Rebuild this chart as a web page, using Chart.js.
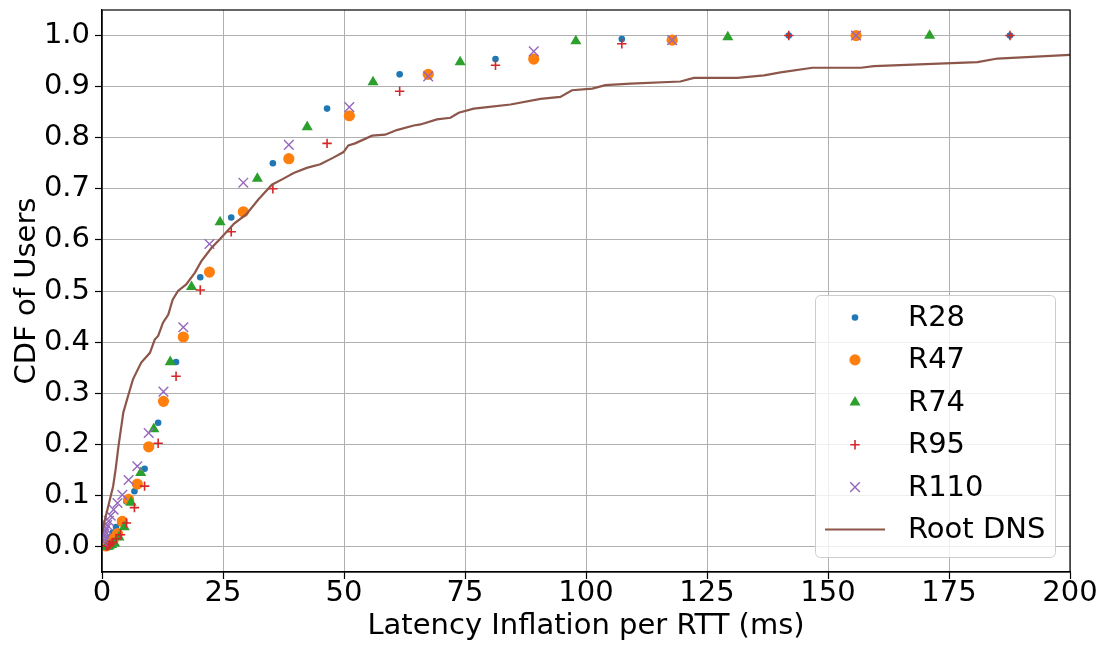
<!DOCTYPE html>
<html>
<head>
<meta charset="utf-8">
<script src="https://cdn.jsdelivr.net/npm/chart.js@4.4.1/dist/chart.umd.min.js"></script>
<style>
  html, body { margin: 0; padding: 0; background: #fff; }
  canvas { display: block; }
</style>
</head>
<body>
<canvas id="cdf" width="1102" height="646"></canvas>
<script>
// latency bins (ms) where each ring's CDF was sampled
const binsR28 = [0.95, 1.26, 1.66, 2.2, 2.9, 3.83, 5.05, 6.7, 8.8, 11.6, 15.3, 20.3, 26.7, 35.3, 46.5, 61.5, 81.3, 107.4, 141.9, 187.6];
const binsR47 = [0.8, 1.05, 1.4, 1.8, 2.4, 3.2, 4.2, 5.5, 7.3, 9.65, 12.7, 16.8, 22.2, 29.2, 38.6, 51.1, 67.4, 89.2, 117.8, 155.8];
const binsR74 = [0.9, 1.2, 1.5, 2.0, 2.6, 3.5, 4.6, 6.0, 8.0, 10.7, 14.1, 18.5, 24.4, 32.1, 42.4, 56.0, 74.0, 97.9, 129.3, 171.0];
const binsR95 = binsR28;
const binsR110 = [0.2, 0.26, 0.35, 0.46, 0.6, 0.8, 1.05, 1.4, 1.8, 2.4, 3.2, 4.2, 5.5, 7.3, 9.65, 12.7, 16.8, 22.2, 29.2, 38.6, 51.1, 67.4, 89.2, 117.8, 155.8];

// fraction of users at or below each bin
const cdfR28 = [0.005, 0.01, 0.018, 0.027, 0.038, 0.05, 0.088, 0.108, 0.152, 0.242, 0.361, 0.527, 0.644, 0.750, 0.857, 0.924, 0.954, 0.993, 1.0, 1.0];
const cdfR47 = [0.001, 0.002, 0.004, 0.008, 0.015, 0.025, 0.049, 0.092, 0.122, 0.195, 0.284, 0.410, 0.537, 0.655, 0.759, 0.843, 0.924, 0.954, 0.991, 1.0];
const cdfR74 = [0.0, 0.0, 0.001, 0.003, 0.006, 0.018, 0.038, 0.086, 0.144, 0.230, 0.361, 0.508, 0.635, 0.720, 0.821, 0.909, 0.948, 0.989, 0.997, 1.0];
const cdfR95 = [0.001, 0.002, 0.004, 0.008, 0.015, 0.023, 0.046, 0.076, 0.118, 0.202, 0.333, 0.502, 0.616, 0.700, 0.789, 0.891, 0.942, 0.984, 1.0, 1.0];
const cdfR110 = [0.01, 0.015, 0.02, 0.025, 0.03, 0.035, 0.042, 0.05, 0.06, 0.072, 0.085, 0.101, 0.130, 0.157, 0.222, 0.303, 0.429, 0.592, 0.712, 0.786, 0.860, 0.920, 0.969, 0.991, 1.0];

// root DNS latency inflation, empirical CDF
const rootLat = [0, 0.3, 1.3, 2.3, 2.8, 3.4, 3.7, 4.1, 4.4, 5.4, 6.4, 8.1, 9.9, 10.9, 11.6, 12.6, 13.7, 14.6, 15.7, 17.4,
  19.2, 20.5, 22.6, 24.2, 27.3, 29.8, 32.3, 35.1, 37.5, 39.6, 42.3, 45.1, 47.8, 49.9, 50.9, 52.3, 55.8, 58.5, 60.9, 64.4,
  65.8, 69.2, 72.0, 73.7, 76.8, 79.6, 84.4, 90.6, 94.7, 97.1, 101.3, 104.0, 109.2, 119.5, 122.3, 131.3, 136.8, 140.2, 146.8, 156.8,
  159.5, 180.9, 185.0, 200];
const rootCdf = [0.025, 0.04, 0.079, 0.118, 0.15, 0.196, 0.216, 0.242, 0.262, 0.295, 0.327, 0.36, 0.379, 0.405, 0.412, 0.438, 0.454, 0.483, 0.5, 0.513,
  0.536, 0.558, 0.584, 0.6, 0.632, 0.65, 0.679, 0.708, 0.72, 0.731, 0.741, 0.748, 0.761, 0.772, 0.785, 0.789, 0.804, 0.806, 0.815, 0.824,
  0.826, 0.836, 0.839, 0.849, 0.857, 0.860, 0.865, 0.876, 0.880, 0.893, 0.896, 0.903, 0.906, 0.910, 0.917, 0.917, 0.922, 0.928, 0.937, 0.937,
  0.940, 0.948, 0.955, 0.962];

const seriesNames = ['R28', 'R47', 'R74', 'R95', 'R110', 'Root DNS'];
const xTicks = [0, 25, 50, 75, 100, 125, 150, 175, 200];
const yTicks = [0.0, 0.1, 0.2, 0.3, 0.4, 0.5, 0.6, 0.7, 0.8, 0.9, 1.0];

const FONT = 'DejaVu Sans';
const FONT_SIZE = 29;

const pts = (xs, ys) => xs.map((x, i) => ({ x: x, y: ys[i] }));

const markerStyle = [
  { color: '#1f77b4', pointStyle: 'circle', radius: 3.3, borderWidth: 0 },
  { color: '#ff7f0e', pointStyle: 'circle', radius: 5.6, borderWidth: 0 },
  { color: '#2ca02c', pointStyle: 'triangle', radius: 6.4, borderWidth: 0 },
  { color: '#d62728', pointStyle: 'cross', radius: 4.7, borderWidth: 1.6 },
  { color: '#9467bd', pointStyle: 'crossRot', radius: 6.8, borderWidth: 1.4 }
];

const markerData = [
  pts(binsR28, cdfR28),
  pts(binsR47, cdfR47),
  pts(binsR74, cdfR74),
  pts(binsR95, cdfR95),
  pts(binsR110, cdfR110)
];

const datasets = markerData.map((d, i) => ({
  label: seriesNames[i],
  data: d,
  showLine: false,
  pointStyle: markerStyle[i].pointStyle,
  pointRadius: markerStyle[i].radius,
  pointBorderWidth: markerStyle[i].borderWidth,
  pointBackgroundColor: markerStyle[i].color,
  pointBorderColor: markerStyle[i].color,
  order: 10 - i
}));

datasets.push({
  label: seriesNames[5],
  data: pts(rootLat, rootCdf),
  showLine: true,
  borderColor: '#8c564b',
  borderWidth: 2.2,
  pointRadius: 0,
  tension: 0,
  order: 1
});

// black box around the axes plus a matplotlib-style key in the lower right
const frameAndKey = {
  id: 'frameAndKey',
  afterDraw(chart) {
    const ctx = chart.ctx;
    const a = chart.chartArea;
    ctx.save();
    ctx.strokeStyle = '#000';
    ctx.lineWidth = 1.2;
    ctx.strokeRect(a.left, a.top, a.right - a.left, a.bottom - a.top);

    const w = 240, h = 262;
    const bx = a.right - 15 - w, by = a.bottom - 15 - h;
    ctx.beginPath();
    ctx.roundRect(bx + 0.5, by + 0.5, w, h, 5);
    ctx.fillStyle = 'rgba(255,255,255,0.8)';
    ctx.fill();
    ctx.strokeStyle = '#cccccc';
    ctx.lineWidth = 1;
    ctx.stroke();

    const rowH = 42.4;
    const mx = bx + 40, tx = bx + 93;
    ctx.font = FONT_SIZE + 'px "' + FONT + '"';
    ctx.textBaseline = 'middle';
    ctx.textAlign = 'left';
    seriesNames.forEach((name, i) => {
      const y = by + 22.5 + i * rowH;
      if (i < markerStyle.length) {
        const m = markerStyle[i];
        ctx.fillStyle = m.color;
        ctx.strokeStyle = m.color;
        ctx.lineWidth = m.borderWidth;
        Chart.helpers.drawPoint(ctx, { pointStyle: m.pointStyle, radius: m.radius, rotation: 0, borderWidth: m.borderWidth }, mx, y);
      } else {
        ctx.strokeStyle = '#8c564b';
        ctx.lineWidth = 2.2;
        ctx.beginPath();
        ctx.moveTo(mx - 30, y);
        ctx.lineTo(mx + 30, y);
        ctx.stroke();
      }
      ctx.fillStyle = '#000';
      ctx.fillText(name, tx, y + 1);
    });
    ctx.restore();
  }
};

new Chart(document.getElementById('cdf').getContext('2d'), {
  type: 'scatter',
  data: { datasets: datasets },
  plugins: [frameAndKey],
  options: {
    responsive: false,
    animation: false,
    events: [],
    layout: { padding: { left: 0, top: 10, right: 32, bottom: 0 } },
    plugins: { legend: { display: false }, tooltip: { enabled: false } },
    scales: {
      x: {
        type: 'linear',
        min: 0,
        max: 200,
        afterBuildTicks: s => { s.ticks = xTicks.map(v => ({ value: v })); },
        afterFit: s => { s.height = 74; s.paddingLeft = 0; s.paddingRight = 0; },
        grid: { color: '#b0b0b0', lineWidth: 1, tickColor: '#000', tickLength: 7, tickWidth: 1.2 },
        border: { color: '#000', width: 1.2 },
        ticks: { color: '#000', padding: -3, maxRotation: 0, font: { family: FONT, size: FONT_SIZE } },
        title: { display: true, text: 'Latency Inflation per RTT (ms)', color: '#000', padding: { top: 0, bottom: 2 }, font: { family: FONT, size: FONT_SIZE } }
      },
      y: {
        type: 'linear',
        min: -0.05,
        max: 1.05,
        afterBuildTicks: s => { s.ticks = yTicks.map(v => ({ value: v })); },
        afterFit: s => { s.width = 102; s.paddingTop = 0; s.paddingBottom = 0; },
        grid: { color: '#b0b0b0', lineWidth: 1, tickColor: '#000', tickLength: 7, tickWidth: 1.2 },
        border: { color: '#000', width: 1.2 },
        ticks: { color: '#000', padding: 5, font: { family: FONT, size: FONT_SIZE }, callback: v => v.toFixed(1) },
        title: { display: true, text: 'CDF of Users', color: '#000', padding: { top: 10, bottom: 0 }, font: { family: FONT, size: FONT_SIZE } }
      }
    }
  }
});
</script>
</body>
</html>
